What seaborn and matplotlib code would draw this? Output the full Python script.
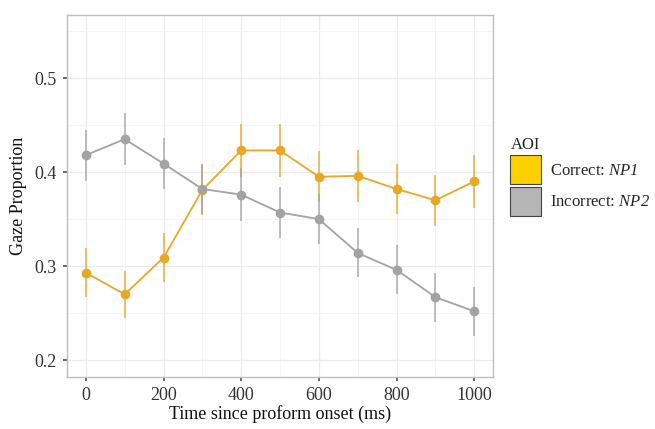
import matplotlib
matplotlib.use("Agg")
import matplotlib.pyplot as plt
from matplotlib.patches import Patch
from matplotlib.ticker import MultipleLocator
import seaborn as sns
import pandas as pd
import numpy as np

time_ms = [0, 100, 200, 300, 400, 500, 600, 700, 800, 900, 1000]
correct = [0.293, 0.270, 0.309, 0.381, 0.423, 0.423, 0.395, 0.396, 0.382, 0.370, 0.390]
incorrect = [0.418, 0.435, 0.409, 0.382, 0.376, 0.357, 0.350, 0.314, 0.296, 0.267, 0.252]
err_correct = [0.026, 0.025, 0.026, 0.027, 0.028, 0.028, 0.027, 0.028, 0.027, 0.027, 0.028]
err_incorrect = [0.027, 0.028, 0.027, 0.027, 0.028, 0.027, 0.027, 0.026, 0.026, 0.026, 0.026]
labels = ["Correct: $\\mathbf{NP1}$", "Incorrect: $\\mathbf{NP2}$"]
xticks = [0, 200, 400, 600, 800, 1000]
yticks = [0.2, 0.3, 0.4, 0.5]

sns.set_theme(style="whitegrid")
plt.rcParams["font.family"] = ["Liberation Serif", "DejaVu Serif"]
plt.rcParams["mathtext.fontset"] = "custom"
plt.rcParams["mathtext.rm"] = "Liberation Serif"
plt.rcParams["mathtext.it"] = "Liberation Serif:italic"
plt.rcParams["mathtext.bf"] = "Liberation Serif:italic"

df = pd.DataFrame({
    "time": time_ms * 2,
    "prop": correct + incorrect,
    "err": err_correct + err_incorrect,
    "AOI": ["Correct"] * len(time_ms) + ["Incorrect"] * len(time_ms),
})

line_colors = {"Correct": "#E8A825", "Incorrect": "#A3A3A3"}
box_colors = {"Correct": "#FFD000", "Incorrect": "#B5B5B5"}

fig = plt.figure(figsize=(6.55, 4.29), dpi=100)
ax = fig.add_axes([0.102, 0.121, 0.651, 0.844])

for name, sub in df.groupby("AOI"):
    ax.errorbar(sub["time"], sub["prop"], yerr=sub["err"], fmt="none",
                ecolor=line_colors[name], elinewidth=1.1, capsize=0, zorder=2,
                alpha=0.9)

sns.lineplot(data=df, x="time", y="prop", hue="AOI", palette=line_colors,
             marker="o", markersize=7, markeredgewidth=0, linewidth=1.3,
             legend=False, ax=ax, zorder=3)

ax.set_xlim(-49, 1049)
ax.set_ylim(0.182, 0.567)
ax.set_xticks(xticks)
ax.set_yticks(yticks)
ax.set_yticklabels([f"{v:.1f}" for v in yticks])
ax.xaxis.set_minor_locator(MultipleLocator(100))
ax.yaxis.set_minor_locator(MultipleLocator(0.05))
ax.grid(which="major", color="#EBEBEB", linewidth=0.9)
ax.grid(which="minor", color="#F4F4F4", linewidth=0.6)
ax.set_axisbelow(True)
for s in ax.spines.values():
    s.set_color("#BDBDBD")
    s.set_linewidth(1.0)
ax.tick_params(axis="both", which="major", length=3, color="#555555",
               labelsize=13, labelcolor="#333333", pad=4, bottom=True, left=True)
ax.tick_params(which="minor", length=0)
ax.set_xlabel("Time since proform onset (ms)", fontsize=13, labelpad=1, color="#111111")
ax.set_ylabel("Gaze Proportion", fontsize=13, labelpad=6, color="#111111")

handles = [Patch(facecolor=box_colors["Correct"], edgecolor="#444444", linewidth=0.8),
           Patch(facecolor=box_colors["Incorrect"], edgecolor="#444444", linewidth=0.8)]
leg = fig.legend(handles, labels, title="AOI", loc="upper left",
                 bbox_to_anchor=(0.769, 0.697), frameon=False, fontsize=12,
                 title_fontsize=12, handlelength=1.85, handleheight=2.3,
                 handletextpad=0.55, labelspacing=0.15, borderaxespad=0)
leg._legend_box.align = "left"

fig.savefig("out.png", dpi=100)
